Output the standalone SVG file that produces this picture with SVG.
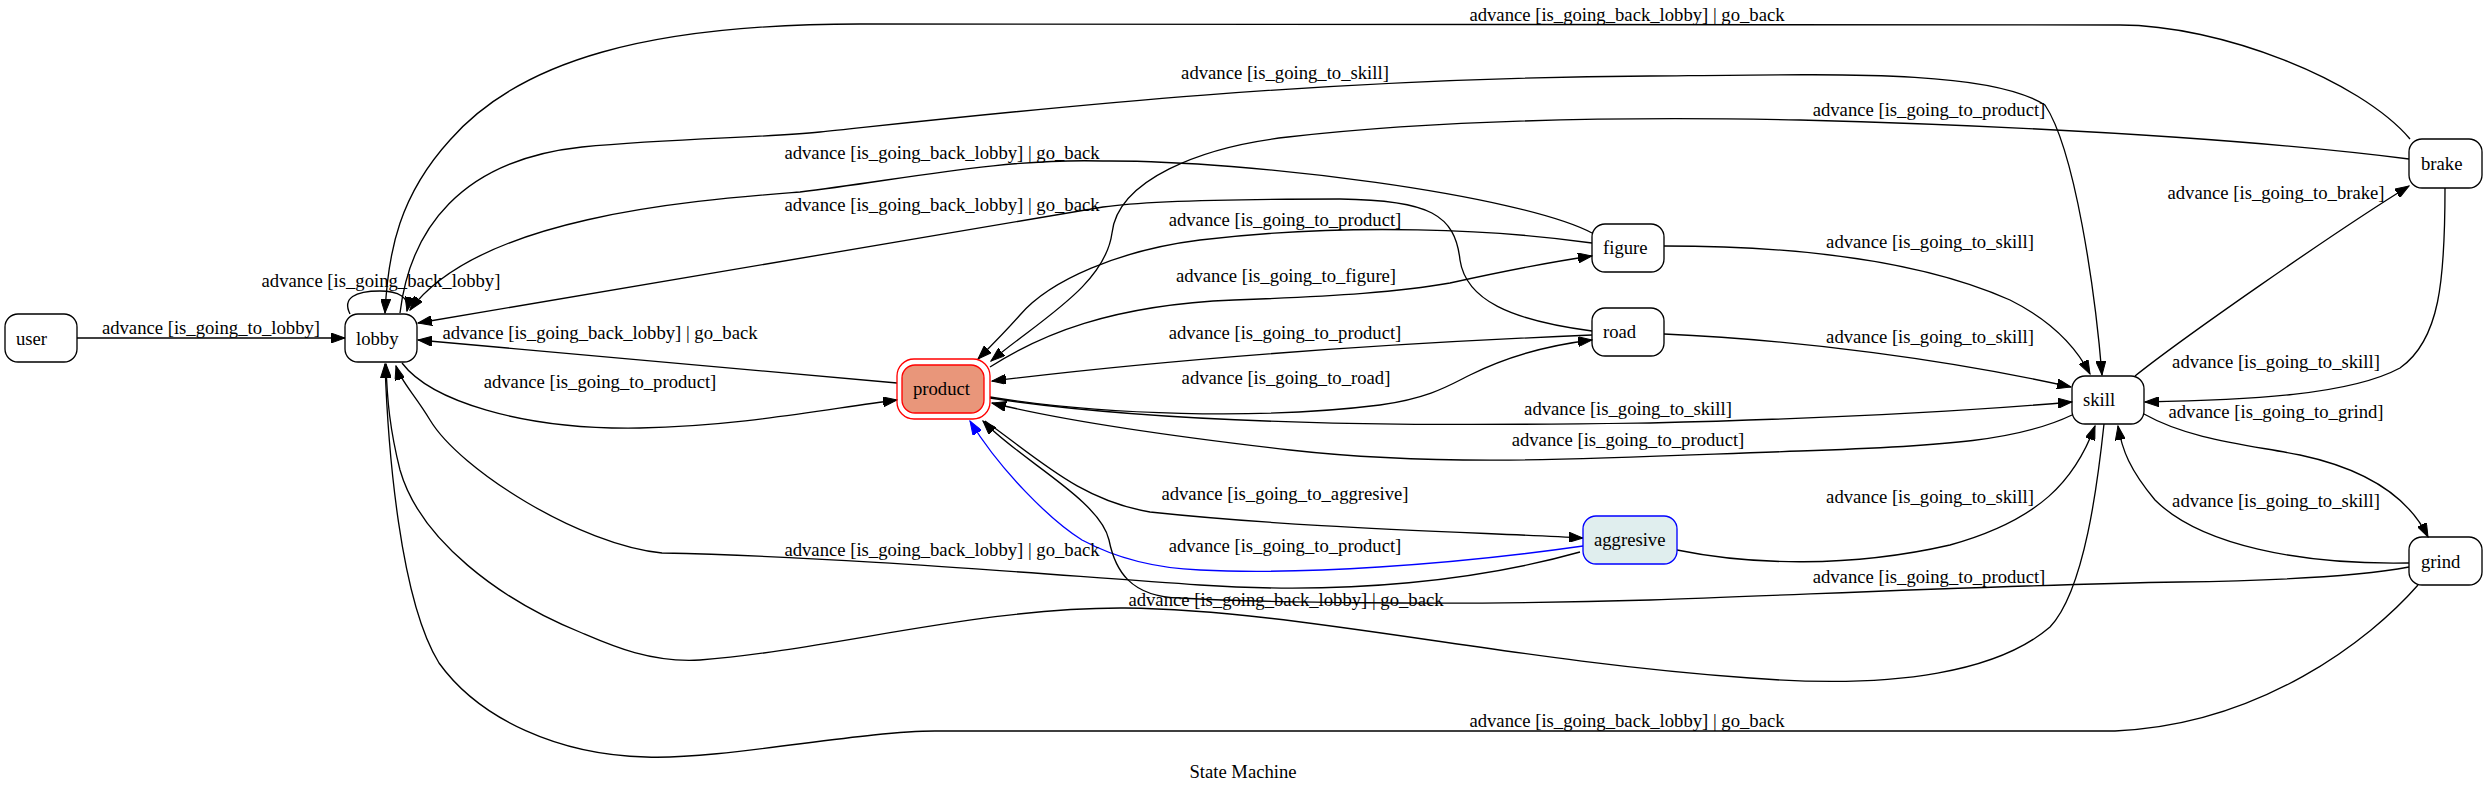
<svg xmlns="http://www.w3.org/2000/svg" width="2487" height="794" viewBox="0 0 2487 794">
<defs>
<style>
text{font-family:"Liberation Serif","Times New Roman",serif;font-size:18.67px;fill:#000}
.lbl{text-anchor:middle}
.node rect{fill:none;stroke:#000;stroke-width:1.33}
.edge path{fill:none;stroke:#000;stroke-width:1.33;marker-end:url(#ah)}
.edge path.blue{stroke:#0000ff;marker-end:url(#ahb)}
.edge path.loop{marker-end:url(#ah)}
</style>
<marker id="ah" markerUnits="userSpaceOnUse" markerWidth="15" markerHeight="10" refX="14" refY="5" orient="auto"><path d="M0,0 L14,5 L0,10 z" fill="#000" stroke="#000" stroke-width="1"/></marker>
<marker id="ahb" markerUnits="userSpaceOnUse" markerWidth="15" markerHeight="10" refX="14" refY="5" orient="auto"><path d="M0,0 L14,5 L0,10 z" fill="#0000ff" stroke="#0000ff" stroke-width="1"/></marker>
</defs>
<rect width="2487" height="794" fill="#fff"/>
<g id="edges" class="edge">
<path id="e-user-lobby" d="M77,338 L345,338"/>
<path id="e-lobby-lobby" d="M350,314 C342,298 355,291 380,291 C398,291 410,297 407,311"/>
<path id="e-product-lobby" d="M897,383 L418,340"/>
<path id="e-lobby-product" d="M402,363 C430,400 520,430 640,428 C740,426 820,410 897,400"/>
<path id="e-lobby-skill" d="M400,313 C410,230 460,160 582,147 C680,138 760,138 820,132 C1000,113 1300,78 1650,76 C1850,74 1990,70 2045,105 C2075,150 2095,290 2102,375"/>
<path id="e-brake-lobby" d="M2410,139 C2360,80 2220,25 2120,25 L860,24 C650,24 520,60 450,140 C400,195 388,250 385,313"/>
<path id="e-figure-lobby" d="M1592,233 C1520,195 1250,160 1103,161 C1000,158 900,180 800,192 C700,200 480,215 410,310"/>
<path id="e-road-lobby" d="M1592,331 C1510,320 1466,300 1460,260 C1455,215 1430,200 1340,199 C1250,199 1150,200 1103,207 L418,323"/>
<path id="e-figure-product" d="M1592,243 C1500,230 1350,222 1200,240 C1120,250 1050,280 1020,315 C1005,332 990,347 978,359"/>
<path id="e-product-figure" d="M990,367 C1040,335 1110,305 1234,300 C1340,296 1400,292 1450,283 C1500,272 1550,262 1592,256"/>
<path id="e-road-product" d="M1592,335 C1400,343 1180,358 992,381"/>
<path id="e-product-road" d="M990,397 C1100,415 1260,420 1380,405 C1430,398 1450,385 1470,375 C1510,355 1550,345 1592,340"/>
<path id="e-product-skill" d="M990,398 C1200,430 1500,425 1650,423 C1850,418 1980,410 2072,402"/>
<path id="e-skill-product" d="M2072,415 C2020,440 1950,446 1800,451 C1600,458 1450,468 1290,450 C1160,435 1060,420 992,403"/>
<path id="e-product-aggresive" d="M985,421 C1040,460 1080,500 1150,512 C1300,528 1470,532 1583,538"/>
<path id="e-aggresive-product" class="blue" d="M1583,546 C1450,565 1300,575 1200,570 C1150,568 1110,555 1082,540 C1050,520 1000,470 970,421"/>
<path id="e-aggresive-lobby" d="M1580,552 C1480,580 1350,595 1200,585 C1050,575 850,557 662,553 C580,545 460,470 430,420 C415,395 400,380 396,366"/>
<path id="e-aggresive-skill" d="M1677,550 C1750,565 1850,568 1950,545 C2040,520 2075,480 2095,426"/>
<path id="e-grind-product" d="M2409,567 C2350,578 2250,581 2180,582 C2000,585 1800,595 1650,600 C1450,606 1250,602 1180,598 C1130,597 1115,570 1109,540 C1100,500 1020,460 983,421"/>
<path id="e-skill-lobby" d="M2104,424 C2098,480 2085,590 2050,627 C2000,670 1900,690 1750,678 C1500,660 1300,610 1125,608 C980,607 830,650 700,660 C650,663 610,645 582,633 C500,600 420,540 400,470 C390,430 387,400 386,364"/>
<path id="e-grind-lobby" d="M2418,585 C2370,640 2260,725 2115,731 L935,731 C860,731 720,760 646,757 C560,755 480,720 439,663 C400,600 388,450 385,364"/>
<path id="e-figure-skill" d="M1664,246 C1800,246 1920,260 2010,300 C2050,320 2075,345 2090,374"/>
<path id="e-road-skill" d="M1664,334 C1800,340 1950,360 2071,387"/>
<path id="e-skill-brake" d="M2135,376 C2180,340 2330,235 2409,186"/>
<path id="e-brake-skill" d="M2445,188 C2445,280 2440,340 2400,368 C2350,395 2250,400 2145,402"/>
<path id="e-skill-grind" d="M2144,414 C2190,440 2250,445 2300,455 C2370,470 2410,500 2428,537"/>
<path id="e-grind-skill" d="M2409,563 C2300,565 2200,545 2155,500 C2130,470 2122,450 2118,426"/>
<path id="e-brake-product" d="M2409,159 C2300,145 2100,128 1800,120 C1600,116 1420,122 1288,137 C1200,147 1118,180 1112,233 C1105,285 1040,320 991,361"/>
</g>
<g id="edge-labels" class="lbl">
<text x="211" y="334">advance [is_going_to_lobby]</text>
<text x="381" y="287">advance [is_going_back_lobby]</text>
<text x="600" y="339">advance [is_going_back_lobby] | go_back</text>
<text x="600" y="388">advance [is_going_to_product]</text>
<text x="1285" y="79">advance [is_going_to_skill]</text>
<text x="1627" y="21">advance [is_going_back_lobby] | go_back</text>
<text x="942" y="159">advance [is_going_back_lobby] | go_back</text>
<text x="942" y="211">advance [is_going_back_lobby] | go_back</text>
<text x="1285" y="226">advance [is_going_to_product]</text>
<text x="1286" y="282">advance [is_going_to_figure]</text>
<text x="1285" y="339">advance [is_going_to_product]</text>
<text x="1286" y="384">advance [is_going_to_road]</text>
<text x="1929" y="116">advance [is_going_to_product]</text>
<text x="2276" y="199">advance [is_going_to_brake]</text>
<text x="1930" y="248">advance [is_going_to_skill]</text>
<text x="1930" y="343">advance [is_going_to_skill]</text>
<text x="2276" y="368">advance [is_going_to_skill]</text>
<text x="2276" y="418">advance [is_going_to_grind]</text>
<text x="1628" y="415">advance [is_going_to_skill]</text>
<text x="1628" y="446">advance [is_going_to_product]</text>
<text x="1285" y="500">advance [is_going_to_aggresive]</text>
<text x="1285" y="552">advance [is_going_to_product]</text>
<text x="942" y="556">advance [is_going_back_lobby] | go_back</text>
<text x="1286" y="606">advance [is_going_back_lobby] | go_back</text>
<text x="1627" y="727">advance [is_going_back_lobby] | go_back</text>
<text x="1930" y="503">advance [is_going_to_skill]</text>
<text x="2276" y="507">advance [is_going_to_skill]</text>
<text x="1929" y="583">advance [is_going_to_product]</text>
</g>
<g id="node-user" class="node"><rect x="5" y="314" width="72" height="48" rx="13"/><text x="16" y="344.5">user</text></g>
<g id="node-lobby" class="node"><rect x="345" y="314" width="72" height="48" rx="13"/><text x="356" y="344.5">lobby</text></g>
<g id="node-product" class="node"><rect x="897" y="359" width="93" height="60" rx="17" style="stroke:#ff0000"/><rect x="902" y="365" width="82" height="48" rx="13" style="fill:#e9967a;stroke:#ff0000"/><text x="913" y="395">product</text></g>
<g id="node-figure" class="node"><rect x="1592" y="224" width="72" height="48" rx="13"/><text x="1603" y="254">figure</text></g>
<g id="node-road" class="node"><rect x="1592" y="308" width="72" height="48" rx="13"/><text x="1603" y="338">road</text></g>
<g id="node-skill" class="node"><rect x="2072" y="376" width="72" height="48" rx="13"/><text x="2083" y="406">skill</text></g>
<g id="node-brake" class="node"><rect x="2409" y="139" width="73" height="49" rx="13"/><text x="2421" y="170">brake</text></g>
<g id="node-grind" class="node"><rect x="2409" y="537" width="73" height="48" rx="13"/><text x="2421" y="567.5">grind</text></g>
<g id="node-aggresive" class="node"><rect x="1583" y="516" width="94" height="48" rx="13" style="fill:#e0eeee;stroke:#0000ff"/><text x="1594" y="546">aggresive</text></g>
<text x="1243" y="778" class="lbl">State Machine</text>
</svg>
